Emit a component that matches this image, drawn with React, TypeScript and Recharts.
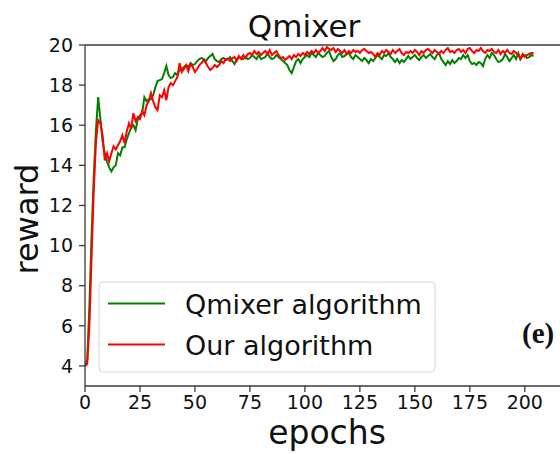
import React from 'react';
import { LineChart, Line, XAxis, YAxis, ReferenceLine } from 'recharts';

const TITLE = 'Qmixer';
const X_LABEL = 'epochs';
const Y_LABEL = 'reward';
const PANEL_TAG = '(e)';
const X_TICKS = [0, 25, 50, 75, 100, 125, 150, 175, 200];
const Y_TICKS = [4, 6, 8, 10, 12, 14, 16, 18, 20];
const SERIES_NAMES = ['Qmixer algorithm', 'Our algorithm'];
const SERIES_COLORS = ['#008000', '#ff0000'];

const qmixerValues = [
  4.0, 4.3, 7.0, 10.5, 13.5, 15.8, 17.4, 16.3, 15.2, 14.6,
  14.2, 13.9, 13.7, 13.9, 14.0, 14.6, 14.5, 14.9, 14.9, 15.3,
  15.6, 15.9, 16.0, 15.75, 16.3, 16.5, 16.6, 17.4, 17.2, 17.3,
  17.3, 17.5, 17.9, 18.2, 18.25, 18.3, 18.6, 18.95, 18.5, 18.35,
  18.4, 18.6, 18.5, 18.75, 18.8, 18.9, 19.0, 18.9, 19.1, 19.0,
  19.05, 19.2, 19.3, 19.35, 19.3, 19.2, 19.35, 19.45, 19.55, 19.3,
  19.2, 19.15, 19.3, 19.35, 19.25, 19.3, 19.4, 19.2, 19.05, 19.3,
  19.4, 19.35, 19.3, 19.4, 19.3, 19.35, 19.5, 19.4, 19.3, 19.5,
  19.3, 19.35, 19.4, 19.6, 19.4, 19.3, 19.35, 19.5, 19.4, 19.3,
  19.2, 19.1, 19.0, 18.75, 18.6, 18.9, 19.2, 19.3, 19.1, 19.3,
  19.4, 19.5, 19.4, 19.6, 19.5, 19.4, 19.6, 19.5, 19.4, 19.45,
  19.6, 19.7, 19.4, 19.2, 19.3, 19.5, 19.6, 19.4, 19.45, 19.55,
  19.6, 19.4, 19.3, 19.5, 19.4, 19.3, 19.2, 19.35, 19.25, 19.1,
  19.3, 19.2, 19.35, 19.5, 19.4, 19.3, 19.5, 19.45, 19.6, 19.4,
  19.3, 19.15, 19.3, 19.1, 19.25, 19.15, 19.3, 19.45, 19.3, 19.4,
  19.5, 19.35, 19.25, 19.4, 19.5, 19.35, 19.45, 19.55, 19.4, 19.3,
  19.5, 19.6, 19.3, 19.15, 19.0, 19.2, 19.05, 19.25, 19.1, 19.2,
  19.35, 19.3, 19.5, 19.35, 19.5, 19.2, 19.05, 19.1, 19.0, 19.15,
  19.1, 18.95, 19.3, 19.5, 19.35, 19.6, 19.5, 19.3, 19.15, 19.2,
  19.3, 19.55, 19.4, 19.2, 19.35, 19.5, 19.3, 19.6, 19.3, 19.45,
  19.5, 19.35, 19.4, 19.5, 19.45,
];

const ourValues = [
  4.0, 4.1, 6.0, 9.5, 12.8, 15.2, 16.25, 16.1, 15.5, 14.25,
  14.6, 14.2, 14.6, 14.95, 14.8, 15.0, 15.2, 15.5, 15.1, 15.7,
  16.1, 15.8, 16.6, 16.2, 16.4, 16.3, 16.7, 16.5, 17.0, 17.2,
  17.6, 17.2, 16.9, 16.75, 17.5, 17.4, 17.75, 17.25, 17.9, 18.1,
  18.0, 18.2, 18.4, 19.1, 18.65, 18.8, 19.0, 18.7, 19.05, 18.9,
  18.65, 18.8, 19.0, 19.1, 19.25, 19.1, 18.9, 18.75, 18.85, 19.0,
  18.9, 19.0, 19.2, 19.1, 19.3, 19.3, 19.2, 19.35, 19.4, 19.2,
  19.45, 19.3, 19.5, 19.35, 19.55, 19.6, 19.5, 19.7, 19.55, 19.65,
  19.5, 19.6, 19.7, 19.55, 19.75, 19.5, 19.6, 19.7, 19.5, 19.35,
  19.4, 19.25, 19.35, 19.45, 19.3, 19.5, 19.4, 19.55, 19.45, 19.6,
  19.5, 19.65, 19.55, 19.7, 19.6, 19.75, 19.6, 19.7, 19.85, 19.7,
  19.9, 19.8, 19.75, 19.85, 19.65, 19.8, 19.7, 19.6, 19.75, 19.55,
  19.7, 19.6, 19.75, 19.65, 19.7, 19.6, 19.75, 19.8, 19.7, 19.6,
  19.65, 19.55, 19.4, 19.6, 19.5, 19.7, 19.6, 19.75, 19.65, 19.55,
  19.75, 19.6, 19.7, 19.8, 19.6, 19.5, 19.65, 19.6, 19.7, 19.6,
  19.75, 19.65, 19.5, 19.7, 19.6, 19.75, 19.8, 19.7, 19.6, 19.75,
  19.65, 19.55, 19.7, 19.6, 19.75, 19.85, 19.65, 19.7, 19.6, 19.75,
  19.8, 19.65, 19.75, 19.6, 19.8, 19.85, 19.7, 19.6, 19.75, 19.7,
  19.85, 19.7, 19.6, 19.75, 19.7, 19.8, 19.65, 19.6, 19.75, 19.55,
  19.7, 19.6, 19.75, 19.6, 19.55, 19.7, 19.6, 19.5, 19.3, 19.55,
  19.4, 19.5, 19.55, 19.6, 19.6,
];

const data = qmixerValues.map((q, i) => ({ epoch: i, qmixer: q, ours: ourValues[i] }));

const FONT = '"DejaVu Sans", sans-serif';
const AXIS_COLOR = '#3a3a3a';

export default function App() {
  return (
    <div
      style={{
        position: 'absolute',
        left: 0,
        top: 0,
        width: 560,
        height: 454,
        overflow: 'hidden',
        background: '#fff',
        fontFamily: FONT,
      }}
    >
      <LineChart
        width={560}
        height={454}
        data={data}
        margin={{ top: 45, right: 0, bottom: 0, left: 0 }}
      >
        <XAxis
          dataKey="epoch"
          type="number"
          domain={[0, 216]}
          ticks={X_TICKS}
          allowDataOverflow
          height={68}
          stroke={AXIS_COLOR}
          strokeWidth={1.3}
          tickSize={6}
          tickMargin={4}
          tick={{ fill: '#111', fontSize: 19, fontFamily: FONT }}
        />
        <YAxis
          type="number"
          domain={[3, 20]}
          ticks={Y_TICKS}
          allowDataOverflow
          width={85}
          stroke={AXIS_COLOR}
          strokeWidth={1.3}
          tickSize={6}
          tickMargin={6}
          tick={{ fill: '#111', fontSize: 19, fontFamily: FONT }}
        />
        <ReferenceLine y={20} stroke={AXIS_COLOR} strokeWidth={1.3} />
        <Line
          type="linear"
          dataKey="qmixer"
          stroke={SERIES_COLORS[0]}
          strokeWidth={2}
          dot={false}
          isAnimationActive={false}
        />
        <Line
          type="linear"
          dataKey="ours"
          stroke={SERIES_COLORS[1]}
          strokeWidth={2}
          dot={false}
          isAnimationActive={false}
        />
      </LineChart>
      <svg
        width={560}
        height={454}
        style={{ position: 'absolute', left: 0, top: 0, pointerEvents: 'none' }}
      >
        <text x={304} y={37} textAnchor="middle" fontSize={31} fontFamily={FONT} fill="#111">
          {TITLE}
        </text>
        <text
          transform="translate(38,219) rotate(-90)"
          textAnchor="middle"
          fontSize={32}
          fontFamily={FONT}
          fill="#111"
        >
          {Y_LABEL}
        </text>
        <text x={327} y={444} textAnchor="middle" fontSize={33} fontFamily={FONT} fill="#111">
          {X_LABEL}
        </text>
        <rect
          x={99}
          y={282}
          width={336}
          height={90}
          rx={4}
          ry={4}
          fill="rgba(255,255,255,0.85)"
          stroke="#d6d6d6"
          strokeWidth={1}
        />
        {SERIES_NAMES.map((name, i) => (
          <g key={name}>
            <line
              x1={108}
              x2={165}
              y1={303.5 + i * 41}
              y2={303.5 + i * 41}
              stroke={SERIES_COLORS[i]}
              strokeWidth={2}
            />
            <text x={185} y={314 + i * 41} fontSize={27} fontFamily={FONT} fill="#111">
              {name}
            </text>
          </g>
        ))}
        <text
          x={522}
          y={343}
          fontSize={29}
          fontWeight="bold"
          fontFamily='"Liberation Serif", serif'
          fill="#111"
        >
          {PANEL_TAG}
        </text>
      </svg>
    </div>
  );
}
